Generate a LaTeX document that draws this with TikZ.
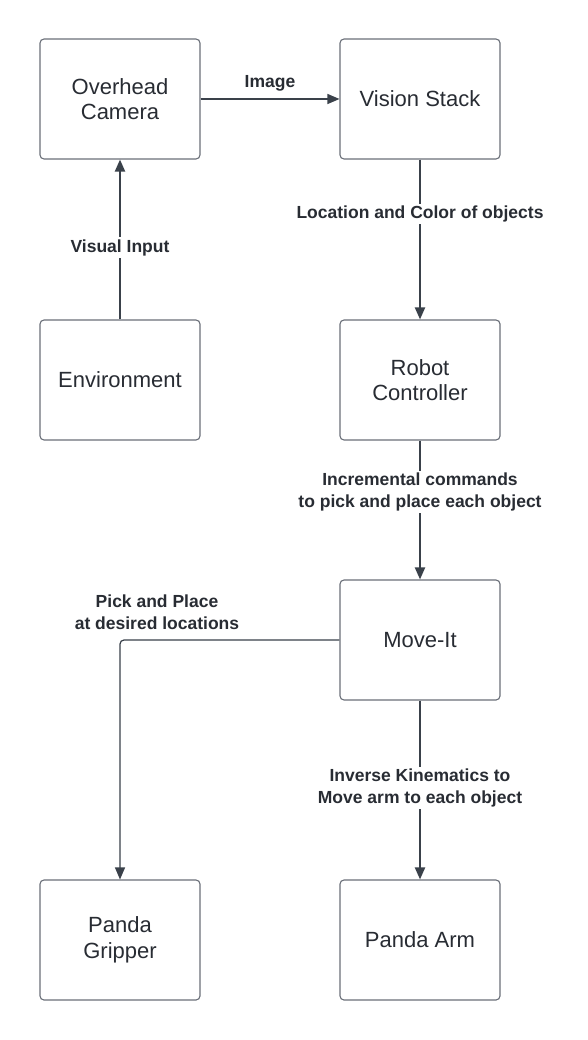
\documentclass[tikz,border=0pt]{standalone}
\usepackage{fontspec}
\setmainfont{Liberation Sans}
\usetikzlibrary{arrows.meta}
\definecolor{boxc}{HTML}{6B7079}
\definecolor{linec}{HTML}{3A414A}
\definecolor{txtc}{HTML}{282C33}
\begin{document}
\begin{tikzpicture}[x=1pt,y=-1pt,
  blk/.style={draw=boxc, line width=1.1pt, rounded corners=4pt, minimum width=160pt, minimum height=120pt, text=txtc, font=\fontsize{22}{25.5}\selectfont, align=center, inner sep=0pt},
  lbl/.style={fill=white, text=txtc, font=\bfseries\fontsize{17.5}{21.5}\selectfont, align=center, inner sep=2pt},
  thk/.style={draw=linec, line width=2pt, -{Triangle[length=12pt,width=10pt]}},
  thn/.style={draw=linec, line width=1.2pt, -{Triangle[length=12pt,width=10pt]}}]
\useasboundingbox (0,0) rectangle (588,1040);
\fill[white] (0,0) rectangle (588,1040);
\node[blk] (cam) at (120,99) {Overhead\\Camera};
\node[blk] (vis) at (420,99) {Vision Stack};
\node[blk] (env) at (120,380) {Environment};
\node[blk] (rob) at (420,380) {Robot\\Controller};
\node[blk] (mov) at (420,640) {Move-It};
\node[blk] (grip) at (120,940) {Panda\\Gripper};
\node[blk] (arm) at (420,940) {Panda Arm};
\draw[thn] (cam.east) -- (vis.west) node[midway, above=5pt, lbl] (limg) {Image};
\draw[thk] (env.north) -- (cam.south) node[lbl, pos=0.45] (lvis) {Visual Input};
\draw[thk] (vis.south) -- (rob.north) node[lbl, pos=0.34] (lloc) {Location and Color of objects};
\draw[thk] (rob.south) -- (mov.north) node[lbl, pos=0.37] (linc) {Incremental commands\\to pick and place each object};
\draw[thk] (mov.south) -- (arm.north) node[lbl, pos=0.49] (link) {Inverse Kinematics to\\Move arm to each object};
\draw[thn, rounded corners=4pt] (mov.west) -| (grip.north);
\node[lbl] (lpp) at (157,612) {Pick and Place\\at desired locations};
\end{tikzpicture}
\end{document}
